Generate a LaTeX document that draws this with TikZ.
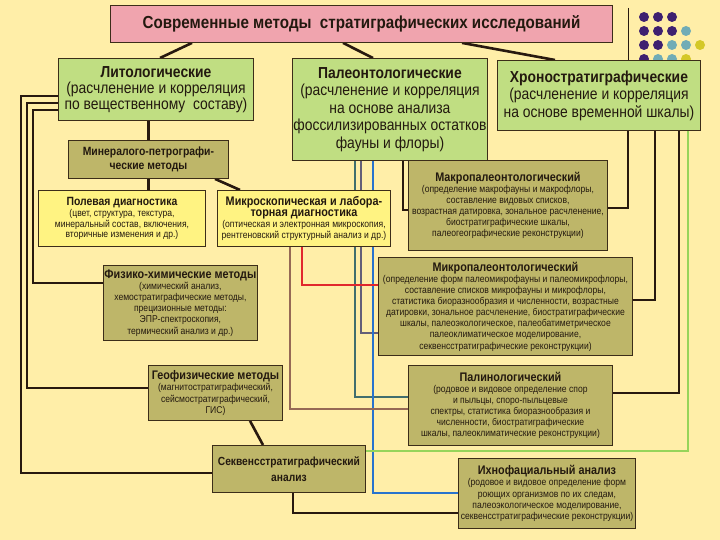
\documentclass[tikz,border=0pt]{standalone}
\usepackage{fontspec}
\setmainfont{Liberation Sans}[FakeStretch=0.87]
\usetikzlibrary{backgrounds}
\definecolor{bgc}{RGB}{255,238,168}
\definecolor{pinkc}{RGB}{240,164,174}
\definecolor{grnc}{RGB}{192,222,130}
\definecolor{olvc}{RGB}{190,182,105}
\definecolor{ylwc}{RGB}{255,243,130}
\definecolor{edgec}{RGB}{60,45,25}
\definecolor{txtc}{RGB}{35,25,15}
\definecolor{lnk}{RGB}{40,25,15}
\definecolor{redc}{RGB}{225,40,45}
\definecolor{brnc}{RGB}{150,105,85}
\definecolor{tealc}{RGB}{65,110,110}
\definecolor{slatec}{RGB}{100,95,120}
\definecolor{bluc}{RGB}{40,115,205}
\definecolor{lgrc}{RGB}{150,212,90}
\definecolor{dotp}{RGB}{62,32,112}
\definecolor{dott}{RGB}{112,172,182}
\definecolor{doty}{RGB}{212,200,40}
\begin{document}
\begin{tikzpicture}[x=1bp,y=-1bp,
  box/.style={draw=edgec, line width=0.9bp, align=center, inner sep=1bp, anchor=north west, text=txtc},
  bigbox/.style={box, fill=grnc, font=\fontsize{16}{15.8}\selectfont},
  olbox/.style={box, fill=olvc, font=\fontsize{9.9}{11.2}\selectfont},
  ylbox/.style={box, fill=ylwc, font=\fontsize{9.9}{11}\selectfont},
  conn/.style={draw=lnk, line width=2.6bp},
  cconn/.style={line width=2.4bp}]
\useasboundingbox (0,0) rectangle (720,540);
% title
\node[box, fill=pinkc, minimum width=502bp, minimum height=37bp, font=\fontsize{17.5}{19}\selectfont\bfseries] (title) at (110,5) {Современные методы \ стратиграфических исследований};
% main boxes
\node[bigbox, minimum width=195bp, minimum height=62bp] (lit) at (58,58) {\textbf{Литологические}\\(расчленение и корреляция\\по вещественному \ составу)};
\node[bigbox, minimum width=195bp, minimum height=102bp, font=\fontsize{16}{17.5}\selectfont] (pal) at (292,58) {\textbf{Палеонтологические}\\(расчленение и корреляция\\на основе анализа\\фоссилизированных остатков\\фауны и флоры)};
\node[bigbox, minimum width=203bp, minimum height=70bp, font=\fontsize{16}{17.5}\selectfont] (chr) at (497,60) {\textbf{Хроностратиграфические}\\(расчленение и корреляция\\на основе временной шкалы)};
% lithology branch
\node[box, fill=olvc, minimum width=160bp, minimum height=38bp, font=\fontsize{12}{14}\selectfont\bfseries] (min) at (68,140) {Минералого-петрографи-\\ческие методы};
\node[ylbox, minimum width=167bp, minimum height=56bp] (pol) at (38,190) {{\fontsize{12}{14}\selectfont\bfseries Полевая диагностика}\\(цвет, структура, текстура,\\минеральный состав, включения,\\вторичные изменения и др.)};
\node[ylbox, minimum width=173bp, minimum height=56bp] (mic) at (217,190) {{\fontsize{12.5}{13}\selectfont\bfseries Микроскопическая и лабора-}\\{\fontsize{12.5}{14}\selectfont\bfseries торная диагностика}\\(оптическая и электронная микроскопия,\\рентгеновский структурный анализ и др.)};
\node[olbox, minimum width=149bp, minimum height=75bp] (fiz) at (103,265) {{\fontsize{12.5}{13}\selectfont\bfseries Физико-химические методы}\\(химический анализ,\\хемостратиграфические методы,\\прецизионные методы:\\ЭПР-спектроскопия,\\термический анализ и др.)};
\node[olbox, minimum width=134bp, minimum height=55bp] (geo) at (148,365) {{\fontsize{12.5}{13}\selectfont\bfseries Геофизические методы}\\(магнитостратиграфический,\\сейсмостратиграфический,\\ГИС)};
\node[box, fill=olvc, minimum width=153bp, minimum height=47bp, font=\fontsize{11.8}{16}\selectfont\bfseries] (seq) at (212,445) {Секвенсстратиграфический\\анализ};
% paleontology branch
\node[olbox, minimum width=199bp, minimum height=90bp] (mac) at (408,160) {{\fontsize{12.5}{13}\selectfont\bfseries Макропалеонтологический}\\(определение макрофауны и макрофлоры,\\составление видовых списков,\\возрастная датировка, зональное расчленение,\\биостратиграфические шкалы,\\палеогеографические реконструкции)};
\node[olbox, minimum width=254bp, minimum height=98bp] (mpal) at (378,257) {{\fontsize{12.5}{13}\selectfont\bfseries Микропалеонтологический}\\(определение форм палеомикрофауны и палеомикрофлоры,\\составление списков микрофауны и микрофлоры,\\статистика биоразнообразия и численности, возрастные\\датировки, зональное расчленение, биостратиграфические\\шкалы, палеоэкологическое, палеобатиметрическое\\палеоклиматическое моделирование,\\секвенсстратиграфические реконструкции)};
\node[olbox, minimum width=204bp, minimum height=80bp] (pali) at (408,365) {{\fontsize{12.5}{13}\selectfont\bfseries Палинологический}\\(родовое и видовое определение спор\\и пыльцы, споро-пыльцевые\\спектры, статистика биоразнообразия и\\численности, биостратиграфические\\шкалы, палеоклиматические реконструкции)};
\node[olbox, minimum width=177bp, minimum height=70bp] (ich) at (458,458) {{\fontsize{12.5}{13}\selectfont\bfseries Ихнофациальный анализ}\\(родовое и видовое определение форм\\роющих организмов по их следам,\\палеоэкологическое моделирование,\\секвенсстратиграфические реконструкции)};
\begin{scope}[on background layer]
\fill[bgc] (0,0) rectangle (720,540);
% decorative template
\draw[lnk, line width=1bp] (628,8) -- (628,60);
\foreach \x/\y/\c in {644/17/dotp,658/17/dotp,672/17/dotp,
  644/31/dotp,658/31/dotp,672/31/dotp,686/31/dott,
  644/45/dotp,658/45/dotp,672/45/dott,686/45/dott,700/45/doty,
  644/59/dotp,658/59/dott,672/59/dott,686/59/doty}
  \fill[\c] (\x,\y) circle (5bp);
% title connectors
\draw[conn] (title.south -| 192,0) -- (lit.north -| 160,0);
\draw[conn] (title.south -| 343,0) -- (pal.north -| 373,0);
\draw[conn] (title.south -| 462,0) -- (chr.north -| 555,0);
% lithology connectors
\draw[conn] (lit.south -| min.north) -- (min.north);
\draw[conn] (min.south) -- (pol.north -| min.south);
\draw[conn] (min.south -| 215,0) -- (mic.north -| 240,0);
\draw[conn] (lit.west |- 0,96) -- (21,96) -- (21,473) -- (seq.west |- 0,473);
\draw[conn] (lit.west |- 0,103) -- (27,103) -- (27,388) -- (geo.west |- 0,388);
\draw[conn] (lit.west |- 0,110) -- (33,110) -- (33,283) -- (fiz.west |- 0,283);
\draw[conn] (geo.south -| 250,0) -- (seq.north -| 263,0);
\draw[conn] (seq.south -| 293,0) -- (293,513) -- (ich.west |- 0,513);
% paleontology connectors
\draw[conn] (pal.south -| 403,0) -- (403,210) -- (mac.west |- 0,210);
\draw[cconn, tealc] (pal.south -| 355,0) -- (355,397) -- (pali.west |- 0,397);
\draw[cconn, slatec] (pal.south -| 361,0) -- (361,333) -- (mpal.west |- 0,333);
\draw[cconn, bluc] (pal.south -| 373,0) -- (373,493) -- (ich.west |- 0,493);
\draw[cconn, redc] (mic.south -| 302,0) -- (302,285) -- (mpal.west |- 0,285);
\draw[cconn, brnc] (mic.south -| 290,0) -- (290,409) -- (pali.west |- 0,409);
% chrono connectors
\draw[conn] (chr.south -| 628,0) -- (628,208) -- (mac.east |- 0,208);
\draw[conn] (chr.south -| 655,0) -- (655,300) -- (mpal.east |- 0,300);
\draw[conn] (chr.south -| 679,0) -- (679,393) -- (pali.east |- 0,393);
\draw[cconn, lgrc, line width=2.8bp] (chr.south -| 688,0) -- (688,451) -- (seq.east |- 0,451);
\end{scope}
\end{tikzpicture}
\end{document}
